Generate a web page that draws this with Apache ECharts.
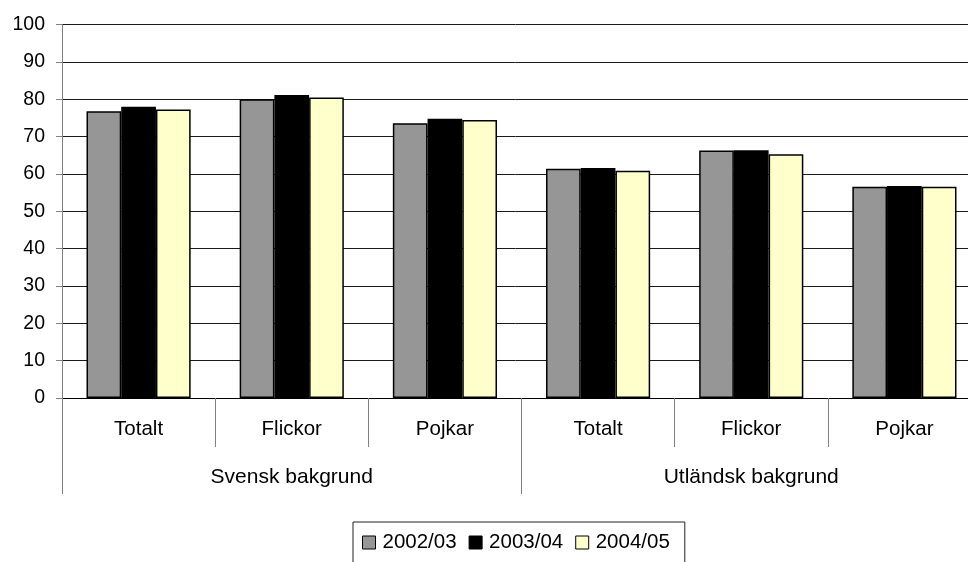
<!DOCTYPE html>
<html>
<head>
<meta charset="utf-8">
<script src="https://cdn.jsdelivr.net/npm/echarts@6/dist/echarts.min.js"></script>
<style>html,body{margin:0;padding:0;background:#fff;overflow:hidden}#c{width:968px;height:562px}</style>
</head>
<body>
<div id="c"></div>
<script>
var categories = ['Totalt', 'Flickor', 'Pojkar', 'Totalt', 'Flickor', 'Pojkar'];
var groups = ['Svensk bakgrund', 'Utländsk bakgrund'];
var seriesNames = ['2002/03', '2003/04', '2004/05'];
var s2002 = [76.8, 80.0, 73.6, 61.4, 66.3, 56.6];
var s2003 = [78.0, 81.2, 74.8, 61.6, 66.4, 56.8];
var s2004 = [77.3, 80.5, 74.5, 60.9, 65.3, 56.6];
var yTicks = [0, 100, 10];

var colors = ['#969696', '#000000', '#FFFFCC'];
var font = 'Liberation Sans, Arial, sans-serif';
var chart = echarts.init(document.getElementById('c'));
var data = [s2002, s2003, s2004];
chart.setOption({
  animation: false,
  textStyle: {fontFamily: font},
  grid: {left: 62, top: 24.7, height: 373.3, width: 919, containLabel: false, outerBoundsMode: 'none'},
  legend: {
    data: seriesNames,
    left: 353, top: 522,
    icon: 'rect', itemWidth: 13, itemHeight: 13, itemGap: 12,
    borderColor: '#222', borderWidth: 1,
    padding: [10, 15, 30, 9],
    textStyle: {fontSize: 20.5, color: '#000', fontFamily: font, padding: [0, 0, 0, 2]},
    itemStyle: {borderColor: '#000', borderWidth: 1}
  },
  xAxis: [{
    type: 'category', data: categories, position: 'bottom',
    axisLine: {show: true, lineStyle: {color: '#000', width: 1}},
    axisTick: {show: true, length: 49, alignWithLabel: false, lineStyle: {color: '#808080'}},
    axisLabel: {fontSize: 20.5, color: '#000', margin: 21, fontFamily: font},
    splitLine: {show: false}
  }, {
    type: 'category', data: groups, position: 'bottom',
    axisLine: {show: false},
    axisTick: {show: true, length: 96, alignWithLabel: false, lineStyle: {color: '#808080'}},
    axisLabel: {fontSize: 21, color: '#000', margin: 69, fontFamily: font},
    splitLine: {show: false}
  }],
  yAxis: {
    type: 'value', min: yTicks[0], max: yTicks[1], interval: yTicks[2],
    axisLine: {show: true, lineStyle: {color: '#808080'}},
    axisTick: {show: true, length: 6, lineStyle: {color: '#808080'}},
    axisLabel: {fontSize: 19.5, color: '#000', margin: 17, fontFamily: font},
    splitLine: {show: true, lineStyle: {color: '#1a1a1a', width: 1}}
  },
  series: seriesNames.map(function (n, i) {
    return {
      name: n, type: 'bar', data: data[i], xAxisIndex: 0,
      barGap: '0%', barCategoryGap: '32%',
      itemStyle: {color: colors[i], borderColor: '#000', borderWidth: 1.5}
    };
  })
});
</script>
</body>
</html>
